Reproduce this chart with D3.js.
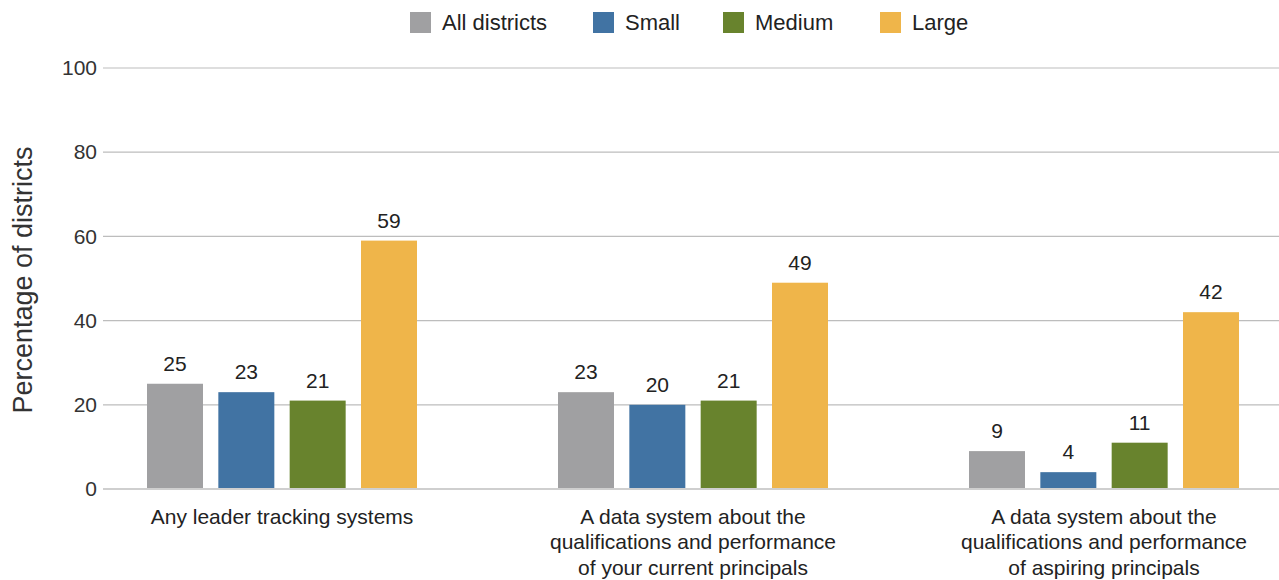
<!DOCTYPE html>
<html><head><meta charset="utf-8">
<script src="https://cdn.jsdelivr.net/npm/d3@7"></script>
<style>body{margin:0;background:#fff;font-family:"Liberation Sans",Arial,Helvetica,sans-serif}</style>
</head><body><svg id="c" width="1279" height="580"></svg>
<script>
const categories = [
  ["Any leader tracking systems"],
  ["A data system about the","qualifications and performance","of your current principals"],
  ["A data system about the","qualifications and performance","of aspiring principals"]
];
const seriesNames = ["All districts","Small","Medium","Large"];
const allDistricts = [25,23,9];
const small = [23,20,4];
const medium = [21,21,11];
const large = [59,49,42];
const yTicks = [0,20,40,60,80,100];
const colors = ["#a0a0a2","#4173a3","#68832d","#efb54a"];
const seriesValues = [allDistricts, small, medium, large];

const svg = d3.select("#c");
const y = d3.scaleLinear().domain([0,100]).range([489,68]);
const x0 = d3.scaleBand().domain(d3.range(categories.length)).range([76.5,1309.5]).padding(0);
const x1 = d3.scaleBand().domain(seriesNames).range([-135,135]).paddingInner(0.215).paddingOuter(0);
const color = d3.scaleOrdinal().domain(seriesNames).range(colors);

// grid
const yAxis = d3.axisLeft(y).tickValues(yTicks).tickSize(0).tickPadding(6);
const ga = svg.append("g").attr("transform","translate(103,0)").call(yAxis);
ga.select(".domain").remove();
ga.selectAll("text").attr("font-size",21).attr("fill","#333").attr("font-family","Liberation Sans, Arial, sans-serif");
svg.append("g").selectAll("line").data(yTicks).join("line")
  .attr("x1",103).attr("x2",1279)
  .attr("y1",d=>y(d)).attr("y2",d=>y(d))
  .attr("stroke",d=>d===0?"#cfcfcf":"#bdbdbd").attr("stroke-width",d=>d===0?2:1.2);

// bars
const groups = svg.append("g").selectAll("g").data(categories.map((c,i)=>i)).join("g")
  .attr("transform",i=>`translate(${x0(i)+x0.bandwidth()/2},0)`);
groups.selectAll("rect").data(i=>seriesNames.map((s,j)=>({s,v:seriesValues[j][i]}))).join("rect")
  .attr("x",d=>x1(d.s)).attr("width",x1.bandwidth())
  .attr("y",d=>y(d.v)).attr("height",d=>y(0)-y(d.v)-1)
  .attr("fill",d=>color(d.s));
groups.selectAll("text.v").data(i=>seriesNames.map((s,j)=>({s,v:seriesValues[j][i]}))).join("text")
  .attr("class","v").attr("x",d=>x1(d.s)+x1.bandwidth()/2).attr("y",d=>y(d.v)-13)
  .attr("text-anchor","middle").attr("font-size",21).attr("fill","#222").text(d=>d.v);

// category labels
groups.append("text").attr("text-anchor","middle").attr("font-size",21).attr("fill","#222")
  .selectAll("tspan").data(i=>categories[i]).join("tspan")
  .attr("x",0).attr("y",(d,k)=>523.5+k*25.5).text(d=>d);

// y label
svg.append("text").attr("transform","translate(32,280) rotate(-90)").attr("text-anchor","middle")
  .attr("font-size",27).attr("fill","#333").text("Percentage of districts");

// legend
const legX = [410,593,723,880];
const lg = svg.append("g").selectAll("g").data(seriesNames).join("g")
  .attr("transform",(d,i)=>`translate(${legX[i]},12)`);
lg.append("rect").attr("width",21).attr("height",21).attr("fill",d=>color(d));
lg.append("text").attr("x",32).attr("y",18).attr("font-size",22).attr("fill","#222").text(d=>d);
</script></body></html>
